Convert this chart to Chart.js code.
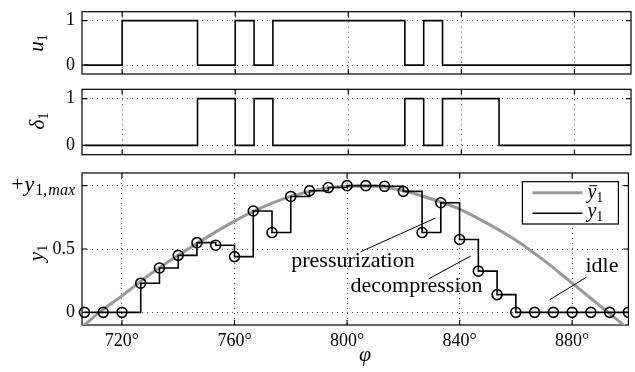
<!DOCTYPE html>
<html><head><meta charset="utf-8">
<script src="https://cdn.jsdelivr.net/npm/chart.js@4.4.1/dist/chart.umd.min.js"></script>
<style>
html,body{margin:0;padding:0;background:#fff;}
#wrap{position:relative;width:635px;height:372px;overflow:hidden;}
.c{position:absolute;left:0;width:635px;}
</style></head><body>
<div id="wrap">
<div class="c" style="top:0;height:80px"><canvas id="c1"></canvas></div>
<div class="c" style="top:80px;height:80px"><canvas id="c2"></canvas></div>
<div class="c" style="top:160px;height:212px"><canvas id="c3"></canvas></div>
</div>
<script>
// ---- data ----
const phi = [706.67, 713.33, 720, 726.67, 733.33, 740, 746.67, 753.33, 760, 766.67,
             773.33, 780, 786.67, 793.33, 800, 806.67, 813.33, 820, 826.67, 833.33,
             840, 846.67, 853.33, 860, 866.67, 873.33, 880, 886.67, 893.33, 900];
const u1 = [0,0,1,1,1,1,0,0,1,0, 1,1,1,1,1,1,1,0,1,0, 0,0,0,0,0,0,0,0,0,0];
const delta1 = [0,0,0,0,0,0,1,1,0,1, 0,0,0,0,0,0,0,1,0,1, 1,1,0,0,0,0,0,0,0,0];
const y1 = [0,0,0,0.23,0.35,0.45,0.55,0.53,0.44,0.80,
            0.63,0.915,0.96,0.985,1.0,1.0,0.995,0.955,0.63,0.865,
            0.575,0.325,0.14,0,0,0,0,0,0,0];
const phiRef = [700,706,712,720,730,740,750,760,770,780,790,800,810,820,830,840,850,860,870,880,890,900,906];
const y1Ref = [-0.2,-0.11,0.0,0.13,0.30,0.45,0.59,0.72,0.83,0.915,0.97,0.995,0.995,0.96,0.895,0.815,0.70,0.57,0.41,0.23,0.05,-0.13,-0.24];
const xTicks = [720,760,800,840,880];
const xTickLabels = ['720°','760°','800°','840°','880°'];
const binTicks = [0,1];
const binTickLabels = ['0','1'];
const yTicks = [0,0.5,1];
const yTickLabels = ['0','0.5','+y1,max'];
const legendLabels = ['ȳ1','y1'];
const annotations = ['pressurization','decompression','idle'];

const FONT = '"Liberation Serif", "Times New Roman", serif';
Chart.defaults.font.family = FONT;
Chart.defaults.color = '#000';

function fnt(size, it){ return (it?'italic ':'') + size + 'px ' + FONT; }
function drawParts(ctx, parts, x, y, align){
  let w = 0;
  parts.forEach(p => { ctx.font = fnt(p.s, p.it); p.w = ctx.measureText(p.t).width + (p.gap||0); w += p.w; });
  let cx = align==='right' ? x - w : (align==='center' ? x - w/2 : x);
  ctx.textAlign = 'left'; ctx.textBaseline = 'alphabetic'; ctx.fillStyle = '#000';
  parts.forEach(p => {
    ctx.font = fnt(p.s, p.it);
    ctx.fillText(p.t, cx, y + (p.dy||0));
    if (p.bar) { ctx.save(); ctx.strokeStyle='#000'; ctx.lineWidth=1; ctx.beginPath();
      ctx.moveTo(cx+2, y-p.s*0.6); ctx.lineTo(cx+p.w+1, y-p.s*0.6); ctx.stroke(); ctx.restore(); }
    cx += p.w;
  });
  return w;
}
function rotLabel(ctx, parts, x, y){
  ctx.save(); ctx.translate(x, y); ctx.rotate(-Math.PI/2);
  drawParts(ctx, parts, 0, 0, 'center'); ctx.restore();
}

const GRID = { color:'#555', lineWidth:1, drawTicks:false };
function xScale(showLabels){
  return {
    type:'linear', min:705.8, max:900,
    afterBuildTicks: s => { s.ticks = xTicks.map(v => ({value:v})); },
    afterFit: s => { s.height = showLabels ? 47 : 0; s.paddingLeft = 0; s.paddingRight = 0; },
    grid: GRID, border: { display:false, dash:[1,4] },
    ticks: { display:showLabels, padding:5, font:{size:18}, autoSkip:false, maxRotation:0,
             callback:(v,i) => xTickLabels[i] }
  };
}
function yScale(min, max, ticks, labels){
  return {
    type:'linear', min, max,
    afterBuildTicks: s => { s.ticks = ticks.map(v => ({value:v})); },
    afterFit: s => { s.width = 82; s.paddingTop = 0; s.paddingBottom = 0; },
    grid: GRID, border: { display:false, dash:[1,4] },
    ticks: { padding:7, font:{size:18}, callback:(v,i) => labels[i] }
  };
}
const framePlugin = {
  id:'frame',
  beforeDatasetsDraw(chart){
    const {ctx, chartArea:a, scales} = chart;
    ctx.save(); ctx.strokeStyle='#000'; ctx.lineWidth=1.2;
    ctx.strokeRect(a.left, a.top, a.width, a.height);
    ctx.beginPath();
    scales.x.ticks.forEach(t => { const p = scales.x.getPixelForValue(t.value);
      ctx.moveTo(p,a.top); ctx.lineTo(p,a.top+5); ctx.moveTo(p,a.bottom); ctx.lineTo(p,a.bottom-5); });
    scales.y.ticks.forEach(t => { const p = scales.y.getPixelForValue(t.value);
      ctx.moveTo(a.left,p); ctx.lineTo(a.left+5,p); ctx.moveTo(a.right,p); ctx.lineTo(a.right-5,p); });
    ctx.stroke(); ctx.restore();
  }
};
function baseOptions(padTop, padBottom, showX, yMin, yMax, yT, yL){
  return {
    responsive:true, maintainAspectRatio:false, animation:false, events:[],
    layout:{ padding:{ top:padTop, bottom:padBottom, left:0, right:4 } },
    plugins:{ legend:{display:false}, tooltip:{enabled:false} },
    scales:{ x:xScale(showX), y:yScale(yMin, yMax, yT, yL) }
  };
}
const pts = arr => phi.map((x,i) => ({x, y:arr[i]}));

// top: u1
new Chart(document.getElementById('c1'), {
  type:'line',
  data:{ datasets:[{ label:'u1', data:pts(u1), stepped:true, borderColor:'#000', borderWidth:1.6, pointRadius:0 }] },
  options: baseOptions(11.7, 6, false, -0.2, 1.2, binTicks, binTickLabels),
  plugins:[framePlugin, { id:'lab1', afterDraw(chart){
    rotLabel(chart.ctx, [{t:'u',s:21,it:true},{t:'1',s:14,dy:4}], 43, 43);
  }}]
});
// middle: delta1
new Chart(document.getElementById('c2'), {
  type:'line',
  data:{ datasets:[{ label:'δ1', data:pts(delta1), stepped:true, borderColor:'#000', borderWidth:1.6, pointRadius:0 }] },
  options: baseOptions(9.3, 5.3, false, -0.2, 1.2, binTicks, binTickLabels),
  plugins:[framePlugin, { id:'lab2', afterDraw(chart){
    rotLabel(chart.ctx, [{t:'δ',s:21,it:true},{t:'1',s:14,dy:4}], 44, 41);
  }}]
});
// bottom: y1
const opt3 = baseOptions(13, 0, true, -0.1, 1.1, yTicks, yTickLabels);
opt3.scales.y.ticks.callback = (v,i) => i === 2 ? '' : yTickLabels[i];
new Chart(document.getElementById('c3'), {
  type:'line',
  data:{ datasets:[
    { label:legendLabels[1], data:pts(y1), stepped:true, borderColor:'#000', borderWidth:1.6,
      pointRadius:5, pointBorderWidth:1.6, pointBorderColor:'#000', pointBackgroundColor:'rgba(0,0,0,0)',
      clip:{left:8, top:8, right:0, bottom:8} },
    { label:legendLabels[0], data:phiRef.map((x,i)=>({x, y:y1Ref[i]})), borderColor:'#999999', borderWidth:3,
      pointRadius:0, cubicInterpolationMode:'monotone', clip:0 }
  ]},
  options: opt3,
  plugins:[framePlugin, { id:'lab3', afterDraw(chart){
    const {ctx, chartArea:a, scales:{x, y}} = chart;
    // y max tick label with subscript
    const py = y.getPixelForValue(yTicks[2]);
    drawParts(ctx, [{t:'+',s:22,gap:1},{t:'y',s:22,it:true,gap:1},{t:'1,',s:16,dy:4,gap:1},{t:'max',s:16,it:true,dy:4}], 75, py+5, 'right');
    // y axis title
    rotLabel(ctx, [{t:'y',s:21,it:true},{t:'1',s:14,dy:4}], 43, 93);
    // x axis title
    drawParts(ctx, [{t:'φ',s:22,it:true}], 365, 201, 'center');
    // annotations
    ctx.save(); ctx.strokeStyle='#000'; ctx.lineWidth=1;
    const seg = (x1,y1_,x2,y2) => { ctx.beginPath(); ctx.moveTo(x.getPixelForValue(x1), y.getPixelForValue(y1_));
      ctx.lineTo(x.getPixelForValue(x2), y.getPixelForValue(y2)); ctx.stroke(); };
    seg(804.8,0.478,831.4,0.744);
    seg(829,0.264,843.9,0.444);
    seg(872.1,0.10,885,0.276);
    ctx.restore();
    drawParts(ctx, [{t:annotations[0],s:22}], x.getPixelForValue(802.1), y.getPixelForValue(0.358), 'center');
    drawParts(ctx, [{t:annotations[1],s:22}], x.getPixelForValue(824.7), y.getPixelForValue(0.164), 'center');
    drawParts(ctx, [{t:annotations[2],s:22}], x.getPixelForValue(890.6), y.getPixelForValue(0.321), 'center');
    // legend
    const bx = a.right - 106, by = a.top + 8.7, bw = 96, bh = 42.3;
    ctx.save(); ctx.fillStyle='#fff'; ctx.fillRect(bx,by,bw,bh);
    ctx.strokeStyle='#000'; ctx.lineWidth=1.2; ctx.strokeRect(bx,by,bw,bh);
    const ds = chart.data.datasets;
    const rows = [ds[1], ds[0]];
    rows.forEach((d, i) => {
      const ly = by + 11 + i*20.6;
      ctx.strokeStyle = d.borderColor; ctx.lineWidth = d.borderWidth;
      ctx.beginPath(); ctx.moveTo(bx+10, ly); ctx.lineTo(bx+60, ly); ctx.stroke();
    });
    ctx.restore();
    drawParts(ctx, [{t:'y',s:20,it:true,bar:true},{t:'1',s:14,dy:4}], bx+65, by+11+5, 'left');
    drawParts(ctx, [{t:'y',s:20,it:true},{t:'1',s:14,dy:4}], bx+65, by+31.6+4, 'left');
  }}]
});
</script>
</body></html>
